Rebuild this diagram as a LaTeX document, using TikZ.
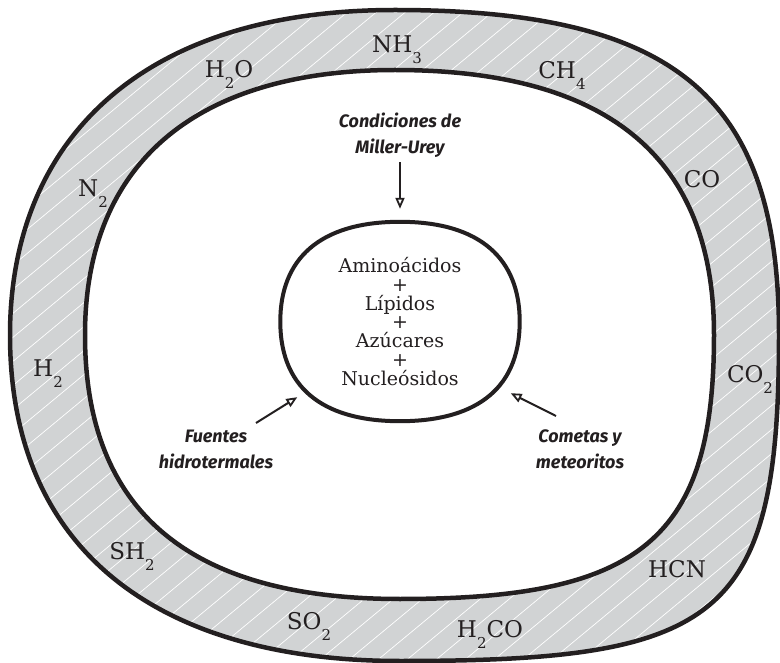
\documentclass[tikz,border=0pt]{standalone}
\usepackage{fontspec}
\setmainfont{DejaVu Serif}
\newfontfamily\manuscrita{Fira Sans}
\usetikzlibrary{arrows.meta,calc}
\definecolor{tinta}{HTML}{231F20}
\definecolor{gris}{HTML}{D1D3D4}
\newcommand{\chemsub}[1]{\raisebox{-11pt}{\fontsize{15}{15}\selectfont #1}}
\newcommand{\bordeext}{(395,10) .. controls (680,10) and (779,100) .. (779,335) .. controls (779,620) and (720,661) .. (400,661) .. controls (170,661) and (10,560) .. (10,335) .. controls (10,150) and (130,10) .. (395,10) -- cycle}
\newcommand{\bordeint}{(395,70) .. controls (605,70) and (714,155) .. (714,335) .. controls (714,540) and (640,599) .. (400,599) .. controls (200,599) and (85,520) .. (85,335) .. controls (85,160) and (200,70) .. (395,70) -- cycle}
\begin{document}
\begin{tikzpicture}[x=1pt, y=-1pt,
    gas/.style={anchor=base, text=tinta, inner sep=0pt, font=\fontsize{23}{23}\selectfont},
    nota/.style={text=tinta, align=center, inner sep=0pt, font=\manuscrita\bfseries\itshape\fontsize{18}{26}\selectfont},
    flecha/.style={draw=tinta, line width=2pt, -{Triangle[length=11pt, width=9pt, line width=1.8pt, fill=white]}},
    borde/.style={draw=tinta, line width=4.5pt}]
    \useasboundingbox (0,0) rectangle (780,663);

    % Atmosfera primitiva
    \fill[gris] \bordeext;
    \begin{scope}
        \clip \bordeext;
        \foreach \k in {-960,-931,...,780}
            \draw[white, line width=0.7pt] (\k,663) -- ++(800,-663);
    \end{scope}
    \fill[white] \bordeint;
    \draw[borde] \bordeext;
    \draw[borde] \bordeint;

    % Gases
    \node[gas] (nh3) at (397,53) {NH\chemsub{3}};
    \node[gas] (h2o) at (229,78) {H\chemsub{2}O};
    \node[gas] (ch4) at (562,79) {CH\chemsub{4}};
    \node[gas] (n2) at (93,197) {N\chemsub{2}};
    \node[gas] (co) at (702,188) {CO};
    \node[gas] (h2) at (48,377) {H\chemsub{2}};
    \node[gas] (co2) at (750,382) {CO\chemsub{2}};
    \node[gas] (sh2) at (132,559) {SH\chemsub{2}};
    \node[gas] (hcn) at (677,577) {HCN};
    \node[gas] (so2) at (309,629) {SO\chemsub{2}};
    \node[gas] (h2co) at (490,637) {H\chemsub{2}CO};

    % Moleculas organicas
    \node[text=tinta, align=center, inner sep=0pt, minimum width=239pt, minimum height=199pt,
        font=\fontsize{19}{18.7}\selectfont] (mezcla) at (400,321.5)
        {Aminoácidos\\+\\Lípidos\\+\\Azúcares\\+\\Nucleósidos};
    \draw[borde, line width=4pt] (mezcla.north) .. controls +(81,0) and +(0,-62) .. (mezcla.east)
        .. controls +(0,72) and +(70,0) .. (mezcla.south)
        .. controls +(-70,0) and +(0,72) .. (mezcla.west)
        .. controls +(0,-62) and +(-81,0) .. (mezcla.north) -- cycle;

    % Origenes
    \node[nota] (miller) at (400,135) {Condiciones de\\Miller-Urey};
    \node[nota] (fuentes) at (216,449) {Fuentes\\hidrotermales};
    \node[nota] (cometas) at (580,449) {Cometas y\\meteoritos};

    \draw[flecha, shorten <=5pt, shorten >=13pt] (miller.south) -- (mezcla.north);
    \draw[flecha] ($(fuentes)+(40,-26)$) -- ($(mezcla.south west)+(17,-24)$);
    \draw[flecha] ($(cometas)+(-24,-33)$) -- ($(mezcla.south east)+(-9,-28)$);
\end{tikzpicture}
\end{document}
